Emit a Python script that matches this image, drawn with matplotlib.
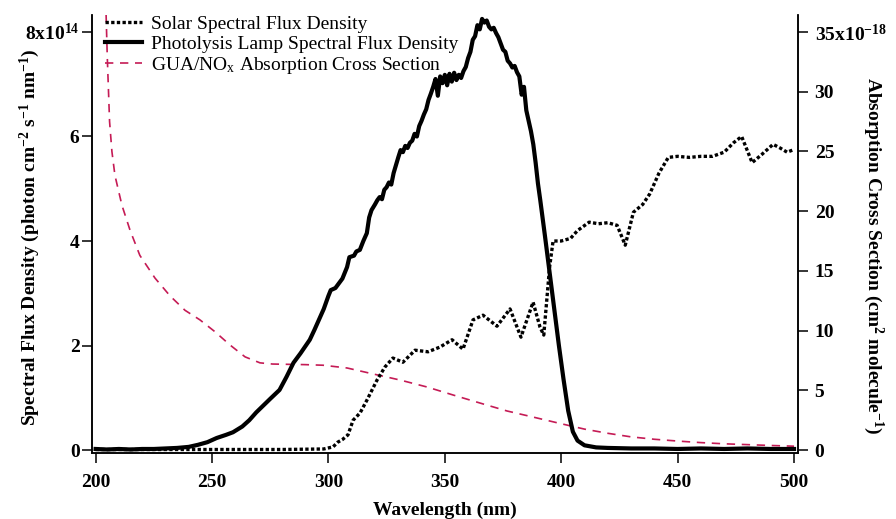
import numpy as np
import matplotlib.pyplot as plt

plt.rcParams['font.family'] = ['Liberation Serif', 'DejaVu Serif']
plt.rcParams['mathtext.fontset'] = 'custom'
plt.rcParams['mathtext.rm'] = 'Liberation Serif:bold'
plt.rcParams['mathtext.bf'] = 'Liberation Serif:bold'
plt.rcParams['mathtext.it'] = 'Liberation Serif:italic:bold'
plt.rcParams['mathtext.sf'] = 'Liberation Serif'
plt.rcParams['mathtext.default'] = 'rm'

# photolysis lamp spectral flux density (units of 1e14 photon cm-2 s-1 nm-1)
lamp_wl = [200, 205, 210, 215, 220, 225, 230, 235, 240, 244, 248, 252, 256, 259,
           263, 266, 269, 272, 275, 279, 282, 285, 288, 290, 292, 294, 296, 298,
           300, 301, 303, 305, 306, 308, 309, 311, 312, 313.5, 315, 316.5, 317.5,
           318.5, 320, 321, 322, 323, 324, 325, 326, 327, 328, 329, 330, 331, 332,
           333, 334, 335, 336, 337, 338, 339, 340, 341, 342, 343, 344, 345, 346,
           347, 348, 349, 350, 351, 352, 353, 354, 355, 356, 357, 358, 359, 360,
           361, 362, 363, 364, 365, 366, 367, 368, 369, 370, 371, 372, 373, 374,
           375, 376, 377, 378, 379, 380, 381, 382, 383, 384, 385, 386, 387, 388,
           389, 390, 391, 393, 395, 397, 399, 401, 403, 405, 407, 410, 415, 420,
           430, 440, 450, 460, 470, 480, 490, 500]
lamp_flux = [0.02, 0.01, 0.02, 0.01, 0.02, 0.02, 0.03, 0.04, 0.06, 0.10, 0.15, 0.23,
             0.29, 0.34, 0.45, 0.57, 0.72, 0.85, 0.98, 1.15, 1.40, 1.67, 1.85, 1.98,
             2.11, 2.30, 2.50, 2.70, 2.95, 3.06, 3.10, 3.22, 3.28, 3.50, 3.69, 3.72,
             3.80, 3.83, 4.00, 4.15, 4.45, 4.59, 4.70, 4.78, 4.84, 4.80, 4.98, 5.03,
             5.12, 5.08, 5.30, 5.45, 5.60, 5.74, 5.70, 5.82, 5.78, 5.88, 5.92, 6.05,
             6.00, 6.20, 6.30, 6.42, 6.52, 6.70, 6.82, 6.95, 7.10, 6.78, 7.15, 7.02,
             7.18, 6.98, 7.20, 7.05, 7.22, 7.08, 7.18, 7.12, 7.25, 7.33, 7.50, 7.62,
             7.85, 7.92, 8.13, 8.05, 8.25, 8.18, 8.22, 8.10, 8.05, 8.08, 7.98, 7.90,
             7.78, 7.66, 7.62, 7.45, 7.40, 7.32, 7.35, 7.23, 7.15, 6.80, 6.95, 6.50,
             6.30, 6.10, 5.85, 5.50, 5.10, 4.78, 4.10, 3.40, 2.70, 2.00, 1.35, 0.75,
             0.35, 0.18, 0.09, 0.05, 0.04, 0.03, 0.03, 0.02, 0.03, 0.02, 0.03, 0.02,
             0.02]

# solar spectral flux density (units of 1e14)
solar_wl = [200, 280, 298, 302, 304, 306, 308.4, 310.6, 313.6, 316.6, 320.9, 324.3,
            327.7, 332.0, 337.2, 342.8, 347.9, 353.1, 357.8, 362.1, 366.4, 372.4,
            378.0, 382.7, 387.9, 390.9, 392.5, 395, 396.5, 400, 404, 407, 412, 416,
            420, 424, 427.5, 431, 435, 438, 442, 446, 450, 455, 460, 465, 470, 474,
            477.5, 482, 486, 491, 494, 497, 500]
solar_flux = [0.01, 0.01, 0.02, 0.06, 0.15, 0.20, 0.29, 0.57, 0.71, 0.96, 1.34, 1.59,
              1.76, 1.68, 1.91, 1.88, 1.97, 2.11, 1.93, 2.49, 2.58, 2.37, 2.70, 2.16,
              2.83, 2.35, 2.20, 3.50, 4.00, 4.00, 4.05, 4.20, 4.36, 4.33, 4.35, 4.30,
              3.92, 4.55, 4.70, 4.90, 5.30, 5.60, 5.62, 5.60, 5.62, 5.62, 5.70, 5.88,
              6.00, 5.50, 5.65, 5.85, 5.78, 5.70, 5.75]

# GUA/NOx absorption cross section (units of 1e-18 cm2 molecule-1)
xs_wl = [200, 202, 204, 205, 206, 207, 208.3, 211.3, 214.8, 219, 225.5, 232, 238.4,
         244.8, 251.3, 257.7, 264.2, 270.6, 276, 281.4, 290, 297.7, 308, 319.2, 330.8,
         342.3, 353.5, 365, 376.7, 387.9, 400, 410, 420, 430, 440, 450, 460, 470, 480,
         490, 500]
xs_val = [80, 55, 40, 33, 27.5, 25, 23.0, 20.5, 18.4, 16.3, 14.4, 12.9, 11.7, 10.9,
          9.9, 8.8, 7.8, 7.3, 7.2, 7.18, 7.15, 7.10, 6.87, 6.37, 5.86, 5.28, 4.61,
          3.94, 3.27, 2.76, 2.2, 1.75, 1.4, 1.1, 0.9, 0.75, 0.62, 0.52, 0.45, 0.38,
          0.32]

x_ticks = [200, 250, 300, 350, 400, 450, 500]
left_ticks = [0, 2, 4, 6, 8]
left_labels = ['0', '2', '4', '6', r'8x10$^{14}$']
right_ticks = [0, 5, 10, 15, 20, 25, 30, 35]
right_labels = ['0', '5', '10', '15', '20', '25', '30', r'35x10$^{-18}$']

RED = '#C51B55'

fig = plt.figure(figsize=(8.96, 5.19), dpi=100)
ax = fig.add_axes([92 / 896, 1 - 453 / 519, 706 / 896, 438 / 519])
ax2 = ax.twinx()

l1, = ax.plot(solar_wl, solar_flux, color='black', lw=2.4, linestyle=(0, (1, 0.7)),
              dash_capstyle='butt', label='Solar Spectral Flux Density', zorder=3)
l2, = ax.plot(lamp_wl, lamp_flux, color='black', lw=3.0,
              label='Photolysis Lamp Spectral Flux Density', zorder=4)
l3, = ax2.plot(xs_wl, xs_val, color=RED, lw=1.2, linestyle=(0, (5, 4)),
               label=r'GUA/NO$_\mathsf{x}$ Absorption Cross Section')
ax.set_zorder(ax2.get_zorder() + 1)
ax.patch.set_visible(False)

ax.set_xlim(198.45, 501.7)
ax.set_ylim(-0.057, 8.325)
ax2.set_ylim(-0.25, 36.43)

for a in (ax, ax2):
    a.spines['top'].set_visible(False)
    for s in ('left', 'right', 'bottom'):
        a.spines[s].set_linewidth(1.1)
    a.tick_params(direction='out', length=7, width=1.1, labelsize=14)

ax.set_xticks(x_ticks, labels=[str(t) for t in x_ticks], fontweight='bold')
ax.set_yticks(left_ticks, labels=left_labels, fontweight='bold')
ax2.set_yticks(right_ticks, labels=right_labels, fontweight='bold')
ax.tick_params(axis='x', pad=8)
ax.tick_params(axis='y', pad=2)
ax2.tick_params(axis='y', pad=5)

ax.set_xlabel('Wavelength (nm)', fontsize=14, fontweight='bold', va='center')
ax.xaxis.set_label_coords(0.5, -0.13)
ax.set_ylabel(r'Spectral Flux Density (photon cm$^{-2}$ s$^{-1}$ nm$^{-1}$)',
              fontsize=14, fontweight='bold', va='center')
ax.yaxis.set_label_coords(-0.088, 0.493)
ax2.set_ylabel(r'Absorption Cross Section (cm$^{2}$ molecule$^{-1}$)',
               fontsize=14, fontweight='bold', rotation=270, va='center')
ax2.yaxis.set_label_coords(1.106, 0.45)

ax.legend(handles=[l1, l2, l3], loc='upper left',
          bbox_to_anchor=(105 / 896, 1 - 15 / 519), bbox_transform=fig.transFigure,
          frameon=False, borderpad=0, borderaxespad=0, handlelength=1.9,
          handletextpad=0.45, labelspacing=0.12, prop={'size': 14})

fig.savefig('out.png', dpi=100)
